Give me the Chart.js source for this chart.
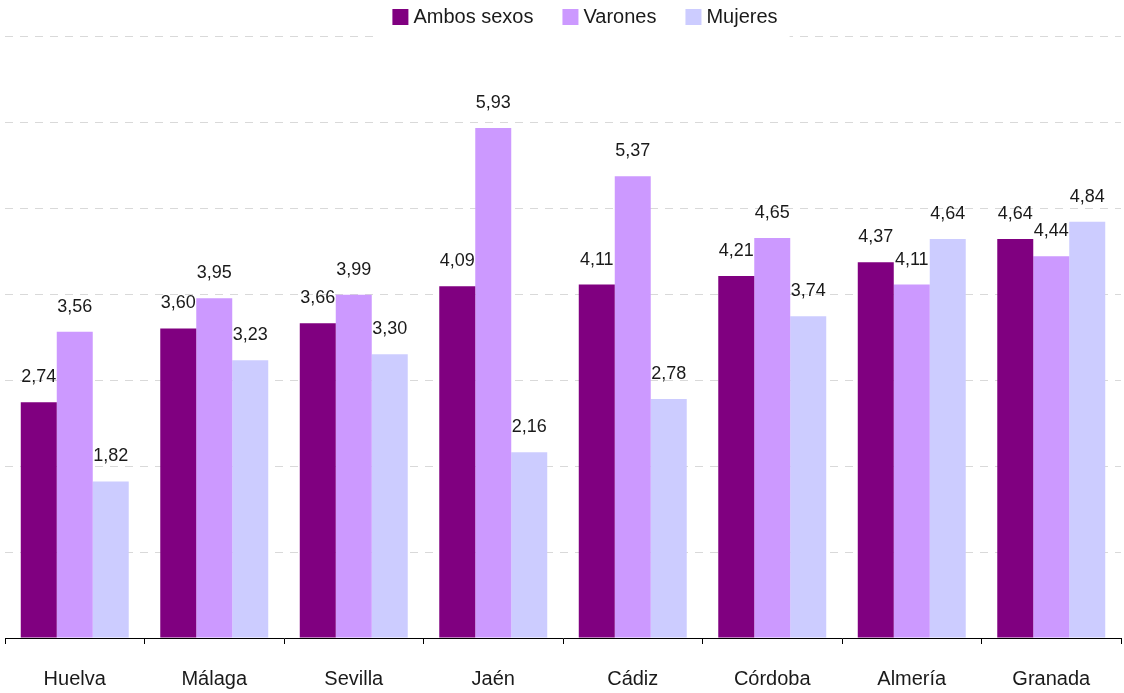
<!DOCTYPE html>
<html>
<head>
<meta charset="utf-8">
<script src="https://cdn.jsdelivr.net/npm/chart.js@4.4.1/dist/chart.umd.min.js"></script>
<style>
html,body{margin:0;padding:0;background:#fff;}
#wrap{width:1124px;height:693px;}
</style>
</head>
<body>
<div id="wrap"><canvas id="c" width="1124" height="693"></canvas></div>
<script>
const categories = ["Huelva", "Málaga", "Sevilla", "Jaén", "Cádiz", "Córdoba", "Almería", "Granada"];
const ambosSexos = [2.74, 3.60, 3.66, 4.09, 4.11, 4.21, 4.37, 4.64];
const varones = [3.56, 3.95, 3.99, 5.93, 5.37, 4.65, 4.11, 4.44];
const mujeres = [1.82, 3.23, 3.30, 2.16, 2.78, 3.74, 4.64, 4.84];
const seriesNames = ["Ambos sexos", "Varones", "Mujeres"];
const seriesColors = ['#800080', '#cc99ff', '#ccccff'];
const yTicks = [0, 1, 2, 3, 4, 5, 6, 7];

const FONT = "'Liberation Sans Narrow', 'Arial Narrow', 'Liberation Sans', sans-serif";

const valueLabels = {
  id: 'valueLabels',
  afterDatasetsDraw(chart) {
    const ctx = chart.ctx;
    ctx.save();
    ctx.font = '18px ' + FONT;
    ctx.fillStyle = '#1a1a1a';
    ctx.textAlign = 'center';
    ctx.textBaseline = 'middle';
    chart.data.datasets.forEach((ds, i) => {
      const meta = chart.getDatasetMeta(i);
      meta.data.forEach((bar, j) => {
        const v = ds.data[j];
        ctx.fillText(v.toFixed(2).replace('.', ','), bar.x, bar.y - 25);
      });
    });
    ctx.restore();
  }
};

// Custom top legend built from the dataset labels/colours
const topLegend = {
  id: 'topLegend',
  _layout(chart) {
    const ctx = chart.ctx;
    ctx.save();
    ctx.font = '20px ' + FONT;
    const box = 16, gapText = 5, gapItem = 29;
    const items = chart.data.datasets.map(ds => ({
      label: ds.label, color: ds.backgroundColor, w: box + gapText + ctx.measureText(ds.label).width
    }));
    ctx.restore();
    const total = items.reduce((s, it) => s + it.w, 0) + gapItem * (items.length - 1);
    let x = 585 - total / 2;
    items.forEach(it => { it.x = x; x += it.w + gapItem; });
    return { items, start: 585 - total / 2, end: 585 + total / 2, box, gapText };
  },
  beforeDatasetsDraw(chart) {
    const L = this._layout(chart);
    const ctx = chart.ctx;
    ctx.save();
    ctx.fillStyle = '#fff';
    ctx.fillRect(L.start - 17, chart.chartArea.top - 4, (L.end + 12) - (L.start - 17), 8);
    ctx.restore();
  },
  afterDraw(chart) {
    const L = this._layout(chart);
    const ctx = chart.ctx;
    ctx.save();
    ctx.font = '20px ' + FONT;
    ctx.textBaseline = 'middle';
    ctx.textAlign = 'left';
    L.items.forEach(it => {
      ctx.fillStyle = it.color;
      ctx.fillRect(it.x, 9, L.box, L.box);
      ctx.fillStyle = '#1a1a1a';
      ctx.fillText(it.label, it.x + L.box + L.gapText, 17.5);
    });
    ctx.restore();
  }
};

new Chart(document.getElementById('c'), {
  type: 'bar',
  data: {
    labels: categories,
    datasets: [
      { label: seriesNames[0], data: ambosSexos, backgroundColor: seriesColors[0] },
      { label: seriesNames[1], data: varones, backgroundColor: seriesColors[1] },
      { label: seriesNames[2], data: mujeres, backgroundColor: seriesColors[2] }
    ]
  },
  options: {
    responsive: false,
    animation: false,
    devicePixelRatio: 1,
    layout: { padding: { left: 5, right: 3, top: 36, bottom: 0 } },
    datasets: { bar: { categoryPercentage: 0.774, barPercentage: 1.0 } },
    plugins: {
      legend: { display: false },
      tooltip: { enabled: false }
    },
    scales: {
      x: {
        grid: { display: true, drawOnChartArea: false, drawTicks: true, tickLength: 6, color: '#000', offset: true },
        border: { display: true, color: '#000', width: 1 },
        ticks: { font: { family: FONT, size: 20 }, color: '#1a1a1a', padding: 23, maxRotation: 0 },
        afterFit(scale) { scale.height = 55; }
      },
      y: {
        min: 0, max: 7,
        afterBuildTicks(scale) { scale.ticks = yTicks.map(v => ({ value: v })); },
        ticks: { display: false },
        grid: { drawTicks: false, color: '#d9d9d9', lineWidth: 1 },
        border: { display: false, dash: [8, 7] }
      }
    }
  },
  plugins: [valueLabels, topLegend]
});
</script>
</body>
</html>
